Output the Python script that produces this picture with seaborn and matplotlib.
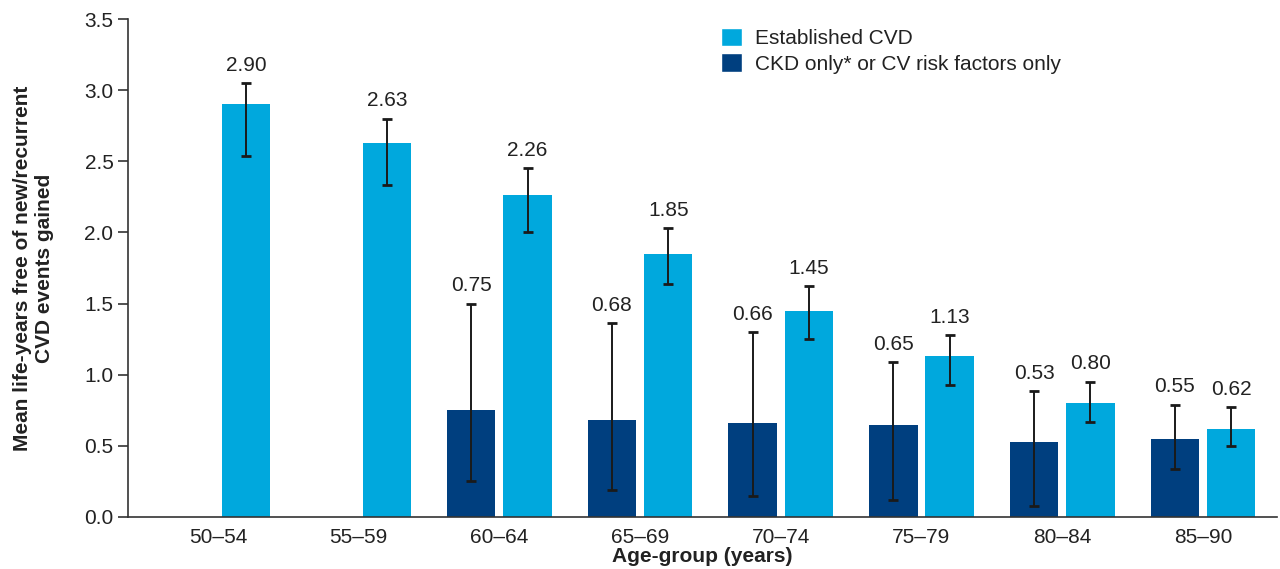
import numpy as np
import matplotlib.pyplot as plt
from matplotlib.patches import Patch
import seaborn as sns
import pandas as pd

age_groups = ['50–54', '55–59', '60–64', '65–69', '70–74', '75–79', '80–84', '85–90']

# Established CVD
cvd_mean = [2.90, 2.63, 2.26, 1.85, 1.45, 1.13, 0.80, 0.62]
cvd_low = [2.54, 2.33, 2.00, 1.64, 1.25, 0.93, 0.67, 0.50]
cvd_high = [3.05, 2.80, 2.45, 2.03, 1.62, 1.28, 0.95, 0.77]

# CKD only* or CV risk factors only
ckd_mean = [np.nan, np.nan, 0.75, 0.68, 0.66, 0.65, 0.53, 0.55]
ckd_low = [np.nan, np.nan, 0.25, 0.19, 0.15, 0.12, 0.08, 0.34]
ckd_high = [np.nan, np.nan, 1.50, 1.36, 1.30, 1.09, 0.885, 0.79]

cvd_name = 'Established CVD'
ckd_name = 'CKD only* or CV risk factors only'
colors = {ckd_name: '#003f7f', cvd_name: '#00a8dd'}
text_color = '#222222'

rows = []
for i, age in enumerate(age_groups):
    rows.append((age, ckd_name, ckd_mean[i], ckd_low[i], ckd_high[i]))
    rows.append((age, cvd_name, cvd_mean[i], cvd_low[i], cvd_high[i]))
df = pd.DataFrame(rows, columns=['age', 'group', 'mean', 'low', 'high'])
df_plot = df.dropna(subset=['mean'])

sns.set_style('ticks')
plt.rcParams['font.family'] = ['Liberation Sans', 'DejaVu Sans']

fig = plt.figure(figsize=(12.8, 5.69), dpi=100)
ax = fig.add_axes([0.1, 0.0914, 0.898, 0.8752])

sns.barplot(data=df_plot, x='age', y='mean', hue='group', order=age_groups,
            hue_order=[ckd_name, cvd_name], palette=colors, errorbar=None,
            width=0.8, gap=0.14, saturation=1, linewidth=0, legend=False, ax=ax)

# Error bars and value labels on each bar
for container, name in zip(ax.containers, [ckd_name, cvd_name]):
    for bar in container:
        xc = bar.get_x() + bar.get_width() / 2
        idx = int(round(xc))
        row = df[(df['age'] == age_groups[idx]) & (df['group'] == name)].iloc[0]
        m = row['mean']
        ax.errorbar(xc, m, yerr=[[m - row['low']], [row['high'] - m]], fmt='none',
                    ecolor='#1a1a1a', elinewidth=1.4, capsize=3.5, capthick=2)
        ax.annotate(f'{m:.2f}', (xc, row['high']), xytext=(0, 6), textcoords='offset points',
                    ha='center', va='bottom', fontsize=15, color=text_color)

ax.set_ylim(0, 3.5)
ax.set_yticks(np.arange(0, 3.51, 0.5))
ax.set_yticklabels([f'{v:.1f}' for v in np.arange(0, 3.51, 0.5)])
ax.set_xlim(-0.64, 7.53)
ax.tick_params(axis='y', length=7, width=1.2, colors='#333333', labelsize=15,
               labelcolor=text_color)
ax.tick_params(axis='x', length=0, labelsize=15, labelcolor=text_color, pad=8)
sns.despine(ax=ax)
for s in ['left', 'bottom']:
    ax.spines[s].set_color('#333333')
    ax.spines[s].set_linewidth(1.2)

ax.set_xlabel('Age-group (years)', fontsize=15, fontweight='bold', color=text_color, labelpad=0)
ax.set_ylabel('Mean life-years free of new/recurrent\nCVD events gained', fontsize=15,
              fontweight='bold', color=text_color, labelpad=22)

handles = [Patch(facecolor=colors[cvd_name]), Patch(facecolor=colors[ckd_name])]
ax.legend(handles, [cvd_name, ckd_name], loc='upper left', bbox_to_anchor=(0.5, 1.02),
          frameon=False, fontsize=15, handlelength=1.0, handleheight=1.0,
          handletextpad=0.6, labelspacing=0.25, labelcolor=text_color)

fig.savefig('out.png', dpi=100)
